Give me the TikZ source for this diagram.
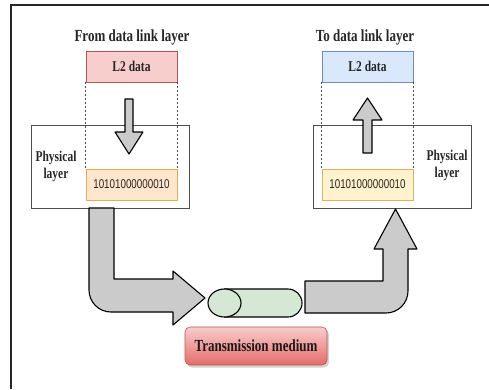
\documentclass[tikz,border=0pt]{standalone}
\usepackage{fontspec}
\setmainfont{Liberation Serif}
\newfontfamily\bitsfont{Liberation Sans}
\usetikzlibrary{shadows}

\definecolor{pinkfill}{HTML}{F8CECC}
\definecolor{pinkline}{HTML}{B85450}
\definecolor{bluefill}{HTML}{DAE8FC}
\definecolor{blueline}{HTML}{6C8EBF}
\definecolor{orangefill}{HTML}{FFE6CC}
\definecolor{orangeline}{HTML}{E0B050}
\definecolor{yellowfill}{HTML}{FFF2CC}
\definecolor{yellowline}{HTML}{D6B656}
\definecolor{greenfill}{HTML}{D5E8D4}
\definecolor{arrowgray}{HTML}{CBCBCB}
\definecolor{mediumtop}{HTML}{F7CDCC}
\definecolor{mediumbot}{HTML}{E46C69}

% text in the picture is a little stretched upwards
\newcommand\tall[1]{\scalebox{1}[1.3]{#1}}

\begin{document}
\begin{tikzpicture}[x=1pt,y=-1pt,
  title/.style={font=\fontsize{13}{15}\selectfont\bfseries, text=black!85},
  datafont/.style={font=\fontsize{11.5}{13}\selectfont\bfseries, text=black!85},
  bits/.style={font=\bitsfont\fontsize{9.8}{11}\selectfont, text=black!85},
  databox/.style={draw, line width=0.7pt, minimum width=91, minimum height=31, inner sep=0pt},
  physbox/.style={draw=black!70, line width=0.8pt, minimum width=158, minimum height=83},
  guide/.style={draw=black!70, line width=0.6pt, dash pattern=on 2pt off 2pt},
  blockarrow/.style={draw=black, line width=1.1pt, fill=arrowgray, line join=round}]

  \useasboundingbox (0,0) rectangle (489,389);

  % frame
  \draw[line width=1.6pt, black!85] (11,389) -- (11,5) -- (489,5);

  % left side: sender
  \node[physbox] (physL) at (110,166.5) {};
  \node[datafont, align=center, inner sep=0pt,
        execute at begin node=\setlength{\baselineskip}{17pt}] (physLtext) at (56,166) {\tall{Physical}\\\tall{layer}};
  \node[title] (fromtext) at (132,37) {\tall{From data link layer}};
  \node[databox, draw=pinkline, fill=pinkfill, datafont] (l2L) at (131.5,66.5) {\tall{L2 data}};
  \node[databox, draw=orangeline, fill=orangefill, bits] (bitsL) at (131.5,184.5) {\tall{10101000000010}};
  \draw[guide] (l2L.south west) -- (bitsL.north west);
  \draw[guide] (l2L.south east) -- (bitsL.north east);
  \draw[blockarrow] (125,99) -- (133,99) -- (133,132) -- (143,132)
    -- (129,154) -- (115,132) -- (125,132) -- cycle; %% L2 -> bits

  % right side: receiver
  \node[physbox] (physR) at (392.5,166.5) {};
  \node[datafont, align=center, inner sep=0pt,
        execute at begin node=\setlength{\baselineskip}{17pt}] (physRtext) at (447,165) {\tall{Physical}\\\tall{layer}};
  \node[title] (totext) at (365,37) {\tall{To data link layer}};
  \node[databox, draw=blueline, fill=bluefill, datafont] (l2R) at (367.5,66.5) {\tall{L2 data}};
  \node[databox, draw=yellowline, fill=yellowfill, bits] (bitsR) at (367.5,184.5) {\tall{10101000000010}};
  \draw[guide] (l2R.south west) -- (bitsR.north west);
  \draw[guide] (l2R.south east) -- (bitsR.north east);
  \draw[blockarrow] (363,153) -- (363,120) -- (353,120) -- (367.5,98)
    -- (382,120) -- (372,120) -- (372,153) -- cycle; %% bits -> L2

  % medium
  \draw[line width=1.1pt, fill=greenfill] (224.5,289) -- (288,289)
    arc[start angle=90, end angle=-90, radius=14pt] -- (224.5,317) -- cycle;
  \draw[line width=1.1pt, fill=greenfill] (224.5,303) ellipse[x radius=16.5pt, y radius=14pt];
  \coordinate (medium) at (256,303);
  \node[draw=pinkline, line width=0.6pt, rounded corners=5pt, top color=mediumtop, bottom color=mediumbot,
        minimum width=142, minimum height=38, title, text=black!90,
        drop shadow={shadow xshift=2pt, shadow yshift=-2.5pt, opacity=0.35}] (mediumtext) at (256,346) {\tall{Transmission medium}};

  % bent arrows
  \draw[blockarrow] (114,208) -- (89,208) -- (89,290)
    arc[start angle=180, end angle=270, radius=22pt] -- (173,312)
    -- (173,325) -- (205,298) -- (173,271) -- (173,279)
    -- (114,279) -- cycle; %% physL -> medium
  \draw[blockarrow] (305,281) -- (383,281) -- (383,249) -- (374,249)
    -- (395.5,209) -- (417,249) -- (408,249) -- (408,291)
    arc[start angle=0, end angle=-90, radius=22pt] -- (305,313) -- cycle; %% medium -> physR

\end{tikzpicture}
\end{document}
